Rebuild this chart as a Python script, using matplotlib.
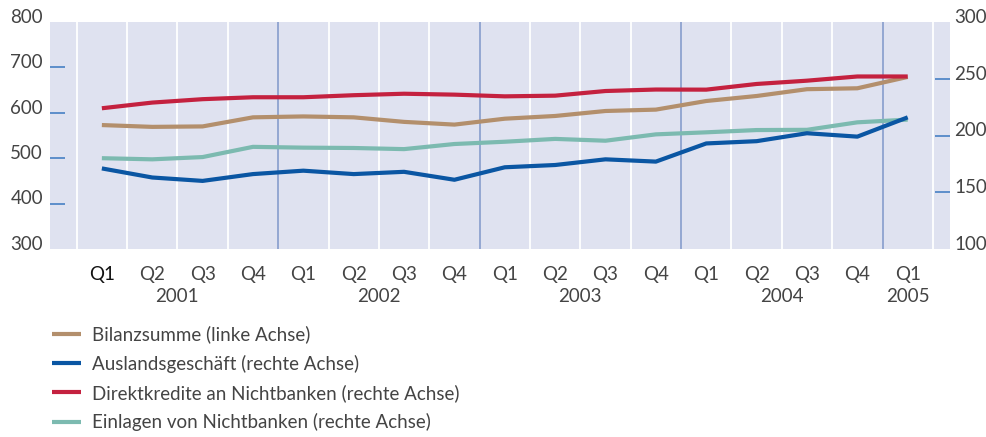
import matplotlib
matplotlib.use("Agg")
import matplotlib.pyplot as plt
import matplotlib.transforms as mtrans

plt.rcParams['font.family'] = ['Lato', 'DejaVu Sans']

quarters = ["Q1", "Q2", "Q3", "Q4"] * 4 + ["Q1"]
years = ["2001", "2002", "2003", "2004", "2005"]
year_pos = [1.5, 5.5, 9.5, 13.5, 16]

# Bilanzsumme (linke Achse)
bilanz = [573, 569, 570, 590, 592, 590, 580, 574, 587, 593, 604, 607, 626, 637, 652, 654, 679]
# Auslandsgeschaeft (rechte Achse)
ausland = [171, 163, 160, 166, 169, 166, 168, 161, 172, 174, 179, 177, 193, 195, 202, 199, 216]
# Direktkredite an Nichtbanken (rechte Achse)
kredite = [224, 229, 232, 233.7, 233.7, 235.5, 236.8, 236, 234.5, 235.1, 239.2, 240.5, 240.4, 245.4, 248.3, 252, 252]
# Einlagen von Nichtbanken (rechte Achse)
einlagen = [180, 179, 181, 190, 189.3, 189, 188, 192.5, 194.5, 197, 195.4, 201, 202.8, 204.8, 205, 211.6, 214]

left_ticks = [300, 400, 500, 600, 700, 800]
right_ticks = [100, 150, 200, 250, 300]

labels = ["Bilanzsumme (linke Achse)", "Auslandsgeschäft (rechte Achse)",
          "Direktkredite an Nichtbanken (rechte Achse)", "Einlagen von Nichtbanken (rechte Achse)"]

c_tan = "#b38f6c"
c_blue = "#0a56a3"
c_red = "#c4213f"
c_teal = "#7cbab0"
txt = "#444444"
tickblue = "#3a78c0"
fs = 13.5

fig = plt.figure(figsize=(9.87, 4.37), dpi=100)
ax = fig.add_axes([50 / 987, 1 - 249 / 437, 900 / 987, 227 / 437])
ax.set_facecolor("#dfe2f0")
ax2 = ax.twinx()

x = list(range(len(quarters)))

# vertical grid lines: white at quarter borders, blue at year borders
for i in range(len(quarters) + 1):
    pos = i - 0.5
    if i in (4, 8, 12, 16):
        ax.axvline(pos, color="#8ea2cf", lw=1.3, zorder=1)
    else:
        ax.axvline(pos, color="white", lw=1.3, zorder=1)

l1, = ax.plot(x, bilanz, color=c_tan, lw=3, zorder=3, solid_capstyle='butt')
l2, = ax2.plot(x, ausland, color=c_blue, lw=3, solid_capstyle='butt')
l3, = ax2.plot(x, kredite, color=c_red, lw=3, solid_capstyle='butt')
l4, = ax2.plot(x, einlagen, color=c_teal, lw=3, solid_capstyle='butt', zorder=1.5)

ax.set_xlim(-1.03, 16.84)
ax.set_ylim(300, 800)
ax2.set_ylim(100, 300)

for s in list(ax.spines.values()) + list(ax2.spines.values()):
    s.set_visible(False)

# y ticks: labels without marks, short blue marks inside for inner values
ax.yaxis.remove_overlapping_locs = False
ax2.yaxis.remove_overlapping_locs = False
ax.set_yticks(left_ticks)
ax.set_yticks(left_ticks[1:-1], minor=True)
ax.tick_params(axis='y', which='major', length=0, pad=5, labelsize=fs, labelcolor=txt)
ax.tick_params(axis='y', which='minor', direction='in', length=11, width=1.1, color=tickblue)
ax2.set_yticks(right_ticks)
ax2.set_yticks(right_ticks[1:-1], minor=True)
ax2.tick_params(axis='y', which='major', length=0, pad=3, labelsize=fs, labelcolor=txt)
ax2.tick_params(axis='y', which='minor', direction='in', length=11, width=1.1, color=tickblue)

shift = mtrans.ScaledTranslation(0, 4.5 / 72, fig.dpi_scale_trans)
for lab in ax.get_yticklabels() + ax2.get_yticklabels():
    lab.set_transform(lab.get_transform() + shift)

ax.set_xticks(x)
ax.set_xticklabels(quarters)
ax.tick_params(axis='x', length=0, pad=12, labelsize=fs, labelcolor=txt)
ax.get_xticklabels()[0].set_color("#111111")

trans = mtrans.blended_transform_factory(ax.transData, fig.transFigure)
for yr, p in zip(years, year_pos):
    ax.text(p, 1 - 297 / 437, yr, transform=trans, ha='center', va='center',
            fontsize=fs, color=txt)

leg = fig.legend([l1, l2, l3, l4], labels, loc='upper left',
                 bbox_to_anchor=(45 / 987, 1 - 318 / 437), frameon=False,
                 fontsize=fs, handlelength=1.5, handletextpad=0.6,
                 labelspacing=0.6, borderaxespad=0)
for t in leg.get_texts():
    t.set_color(txt)

fig.savefig("out.png", dpi=100)
